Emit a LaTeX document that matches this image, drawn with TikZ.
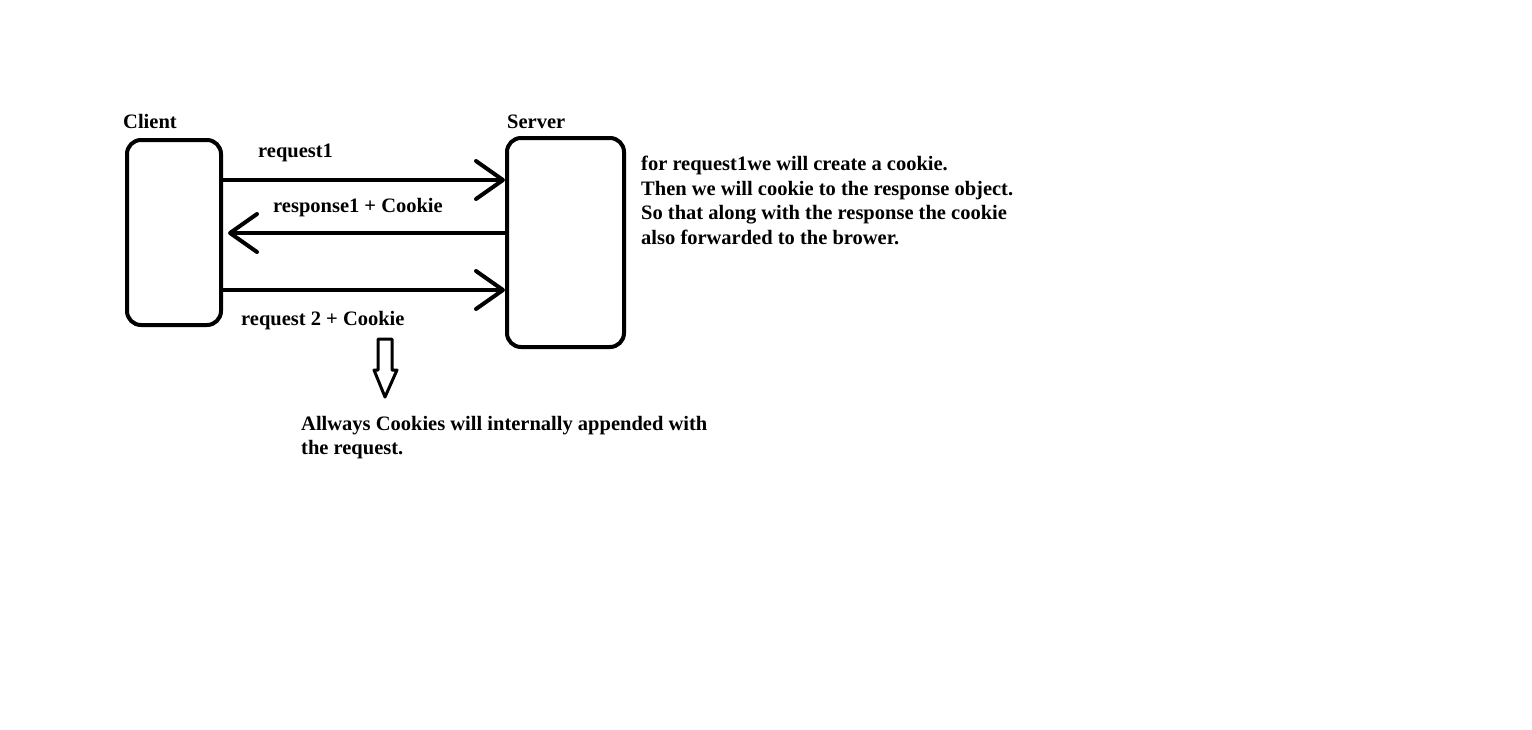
\documentclass[tikz,border=0pt]{standalone}
\usepackage{fontspec}
\setmainfont{Liberation Serif}
\usetikzlibrary{arrows.meta,positioning}

\tikzset{
    box/.style={draw, line width=4pt, rounded corners=14pt, inner sep=0pt},
    msg/.style={line width=4pt, -{Straight Barb[length=27pt, width=38pt, line width=4pt, round]}},
    lbl/.style={anchor=base west, inner sep=0pt, font=\fontsize{20.5}{24.5}\selectfont\bfseries},
    note/.style={anchor=north west, inner sep=0pt, align=left, font=\fontsize{20.5}{24.5}\selectfont\bfseries}
}

\begin{document}
\begin{tikzpicture}[x=1pt, y=-1pt]
\useasboundingbox (0, 0) rectangle (1532, 729);
\node[box, minimum width=94pt, minimum height=185pt] (client) at (174, 232.5) {};
\node[box, minimum width=117pt, minimum height=209pt] (server) at (565.5, 242.5) {};
\node[lbl] (clientlbl) at (123, 128) {Client};
\node[lbl] (serverlbl) at (507, 128) {Server};
\node[lbl] (req1) at (258, 157) {request1};
\node[lbl] (resp1) at (273, 212) {response1 + Cookie};
\node[lbl] (req2) at (241, 325) {request 2 + Cookie};
\draw[msg] (client.east |- 0, 180) -- (server.west |- 0, 180);
\draw[msg] (server.west |- 0, 233) -- ([xshift=5pt]client.east |- 0, 233);
\draw[msg] (client.east |- 0, 290) -- (server.west |- 0, 290);
% hollow arrow down to the note
\draw[line width=3pt, line join=round] (378, 339) -- (392, 339) -- (392, 370) -- (397, 370)
    -- (385, 397) -- (374, 370) -- (378, 370) -- cycle;
\node[note] (cookienote) at (641, 156) {for request1we will create a cookie.\\Then we will cookie to the response object.\\So that along with the response the cookie\\also forwarded to the brower.};
\node[note] (allways) at (301, 416) {Allways Cookies will internally appended with\\the request.};
\end{tikzpicture}
\end{document}
